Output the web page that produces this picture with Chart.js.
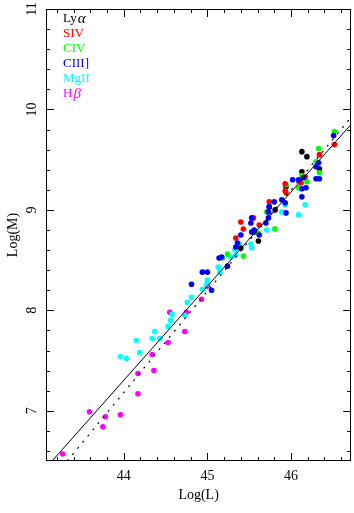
<!DOCTYPE html>
<html>
<head>
<meta charset="utf-8">
<script src="https://cdn.jsdelivr.net/npm/chart.js@4.4.1/dist/chart.umd.min.js"></script>
<style>
html,body{margin:0;padding:0;background:#fff;}
canvas{display:block;}
</style>
</head>
<body>
<canvas id="c" width="354" height="513"></canvas>
<script>
// ---- data (log L, log M) ----
const lyaPoints = [[45.40,8.62],[45.61,8.69],[45.56,8.78],[45.74,9.03],[45.81,9.00],[45.94,9.23],[46.13,9.38],[46.13,9.58],[46.19,9.53],[46.34,9.41]];
const sivPoints = [[45.40,8.88],[45.43,8.81],[45.34,8.72],[45.55,8.92],[45.62,8.85],[45.74,9.08],[45.93,9.19],[45.94,9.17],[45.93,9.26],[46.12,9.27],[46.17,9.33],[46.34,9.55],[46.52,9.65]];
const civPoints = [[45.18,8.52],[45.24,8.56],[45.43,8.54],[45.61,8.77],[45.71,8.98],[45.81,8.81],[45.94,9.25],[46.09,9.22],[46.13,9.34],[46.19,9.28],[46.34,9.37],[46.30,9.48],[46.33,9.61],[46.52,9.78]];
const ciiiPoints = [[44.81,8.26],[44.94,8.38],[45.00,8.38],[45.05,8.20],[45.14,8.52],[45.17,8.53],[45.24,8.44],[45.34,8.63],[45.36,8.67],[45.40,8.75],[45.53,8.78],[45.52,8.87],[45.56,8.80],[45.62,8.75],[45.53,8.92],[45.73,8.98],[45.74,9.03],[45.80,9.08],[45.70,8.87],[45.73,8.92],[45.89,9.10],[45.93,9.07],[45.94,8.97],[46.02,9.30],[46.09,9.30],[46.15,9.32],[46.13,9.21],[46.18,9.22],[46.13,9.13],[46.30,9.43],[46.33,9.47],[46.30,9.31],[46.34,9.31],[46.51,9.74]];
const mgiiPoints = [[43.96,7.54],[44.03,7.52],[44.15,7.70],[44.19,7.58],[44.34,7.72],[44.37,7.79],[44.43,7.72],[44.53,7.84],[44.56,7.90],[44.58,7.96],[44.73,7.95],[44.76,8.08],[44.81,8.13],[44.94,8.21],[44.99,8.26],[45.00,8.30],[45.13,8.43],[45.15,8.38],[45.28,8.53],[45.34,8.55],[45.33,8.60],[45.38,8.66],[45.52,8.66],[45.53,8.62],[45.71,8.80],[45.80,8.81],[45.89,8.98],[45.93,9.05],[46.09,8.95],[46.17,9.05]];
const hbPoints = [[43.27,6.57],[43.59,6.99],[43.78,6.94],[43.75,6.84],[43.96,6.96],[44.17,7.17],[44.17,7.37],[44.36,7.40],[44.34,7.56],[44.53,7.68],[44.55,7.98],[44.73,7.79],[44.75,7.98],[44.93,8.11],[45.00,8.24]];

const solidFitX = [43.143, 46.72];
const solidFitY = [6.50, 9.852];
const dottedFitX = [43.324, 46.72];
const dottedFitY = [6.50, 9.923];

const legendLabels = ['Ly', 'SIV', 'CIV', 'CIII]', 'MgII', 'H'];
const legendGreek = ['α', '', '', '', '', 'β'];
const seriesColors = ['#000000', '#ff0000', '#00ff00', '#0000ff', '#00ffff', '#ff00ff'];

const xMin = 43.07, xMax = 46.72;
const yMin = 6.5, yMax = 11;
const xTicks = [44, 45, 46];
const yTicks = [7, 8, 9, 10, 11];
const minorStep = 0.2;
const xTitle = 'Log(L)';
const yTitle = 'Log(M)';

const FONT = '"Liberation Serif", "DejaVu Serif", serif';

function pts(arr){ return arr.map(p => ({x:p[0], y:p[1]})); }
function linePts(xs, ys){ return xs.map((x,i)=>({x:x, y:ys[i]})); }

const series = [lyaPoints, sivPoints, civPoints, ciiiPoints, mgiiPoints, hbPoints];
// drawing order: earlier datasets are drawn on top
const pointOrder = [3, 1, 2, 0, 4, 5];

const datasets = [
  {type:'line', label:'fit', data: linePts(solidFitX, solidFitY), borderColor:'#000', borderWidth:1, pointRadius:0, fill:false, showLine:true},
  {type:'line', label:'fit2', data: linePts(dottedFitX, dottedFitY), borderColor:'#000', borderWidth:1.2, borderDash:[2,6], pointRadius:0, fill:false, showLine:true}
];
pointOrder.forEach(i => {
  datasets.push({
    type:'scatter',
    label: legendLabels[i] + legendGreek[i],
    data: pts(series[i]),
    backgroundColor: seriesColors[i],
    borderWidth: 0,
    pointRadius: 2.8,
    pointHoverRadius: 2.8
  });
});

const framePlugin = {
  id:'frame',
  afterDraw(chart){
    const ctx = chart.ctx;
    const a = chart.chartArea;
    const xs = chart.scales.x, ys = chart.scales.y;
    ctx.save();
    ctx.strokeStyle = '#000';
    ctx.lineWidth = 1;
    ctx.strokeRect(Math.round(a.left)+0.5, Math.round(a.top)+0.5, Math.round(a.right-a.left)-1, Math.round(a.bottom-a.top)-1);
    ctx.beginPath();
    for (let v = Math.ceil(xMin/minorStep)*minorStep; v <= xMax + 1e-9; v += minorStep) {
      const major = Math.abs(v - Math.round(v)) < 1e-6;
      const len = major ? 8 : 4;
      const px = Math.round(xs.getPixelForValue(v)) + 0.5;
      ctx.moveTo(px, a.bottom); ctx.lineTo(px, a.bottom - len);
      ctx.moveTo(px, a.top); ctx.lineTo(px, a.top + len);
    }
    for (let v = Math.ceil(yMin/minorStep - 1e-9)*minorStep; v <= yMax + 1e-9; v += minorStep) {
      const major = Math.abs(v - Math.round(v)) < 1e-6;
      const len = major ? 8 : 4;
      const py = Math.round(ys.getPixelForValue(v)) + 0.5;
      ctx.moveTo(a.left, py); ctx.lineTo(a.left + len, py);
      ctx.moveTo(a.right, py); ctx.lineTo(a.right - len, py);
    }
    ctx.stroke();
    ctx.fillStyle = '#000';
    ctx.font = '14px ' + FONT;
    ctx.textAlign = 'center';
    ctx.textBaseline = 'middle';
    yTicks.forEach(v => {
      const py = ys.getPixelForValue(v);
      ctx.save();
      ctx.translate(32, py);
      ctx.rotate(-Math.PI/2);
      ctx.fillText(String(v), 0, 0);
      ctx.restore();
    });
    ctx.save();
    ctx.translate(13, (a.top + a.bottom)/2);
    ctx.rotate(-Math.PI/2);
    ctx.fillText(yTitle, 0, 0);
    ctx.restore();
    ctx.textAlign = 'left';
    const lx = a.left + 17;
    legendLabels.forEach((lab, i) => {
      const ly = a.top + 10 + i * 15;
      ctx.fillStyle = seriesColors[i];
      ctx.font = '13px ' + FONT;
      ctx.fillText(lab, lx, ly);
      if (legendGreek[i]) {
        const w = ctx.measureText(lab).width;
        ctx.font = 'italic 15px ' + FONT;
        ctx.fillText(legendGreek[i], lx + w + 1, ly);
      }
    });
    ctx.restore();
  }
};

new Chart(document.getElementById('c'), {
  type:'scatter',
  data:{datasets},
  options:{
    responsive:false,
    animation:false,
    devicePixelRatio:1,
    layout:{padding:{left:0, right:2, top:9, bottom:0}},
    plugins:{legend:{display:false}, tooltip:{enabled:false}},
    scales:{
      x:{
        type:'linear', min:xMin, max:xMax,
        afterBuildTicks(s){ s.ticks = xTicks.map(v=>({value:v})); },
        afterFit(s){ s.height = 52; },
        grid:{display:false, drawTicks:false},
        border:{display:false},
        ticks:{color:'#000', font:{family:FONT, size:14}, padding:7, maxRotation:0, autoSkip:false},
        title:{display:true, text:xTitle, color:'#000', font:{family:FONT, size:14}, padding:{top:0, bottom:9}}
      },
      y:{
        type:'linear', min:yMin, max:yMax,
        afterBuildTicks(s){ s.ticks = yTicks.map(v=>({value:v})); },
        afterFit(s){ s.width = 46; },
        grid:{display:false, drawTicks:false},
        border:{display:false},
        ticks:{display:false}
      }
    }
  },
  plugins:[framePlugin]
});
</script>
</body>
</html>
